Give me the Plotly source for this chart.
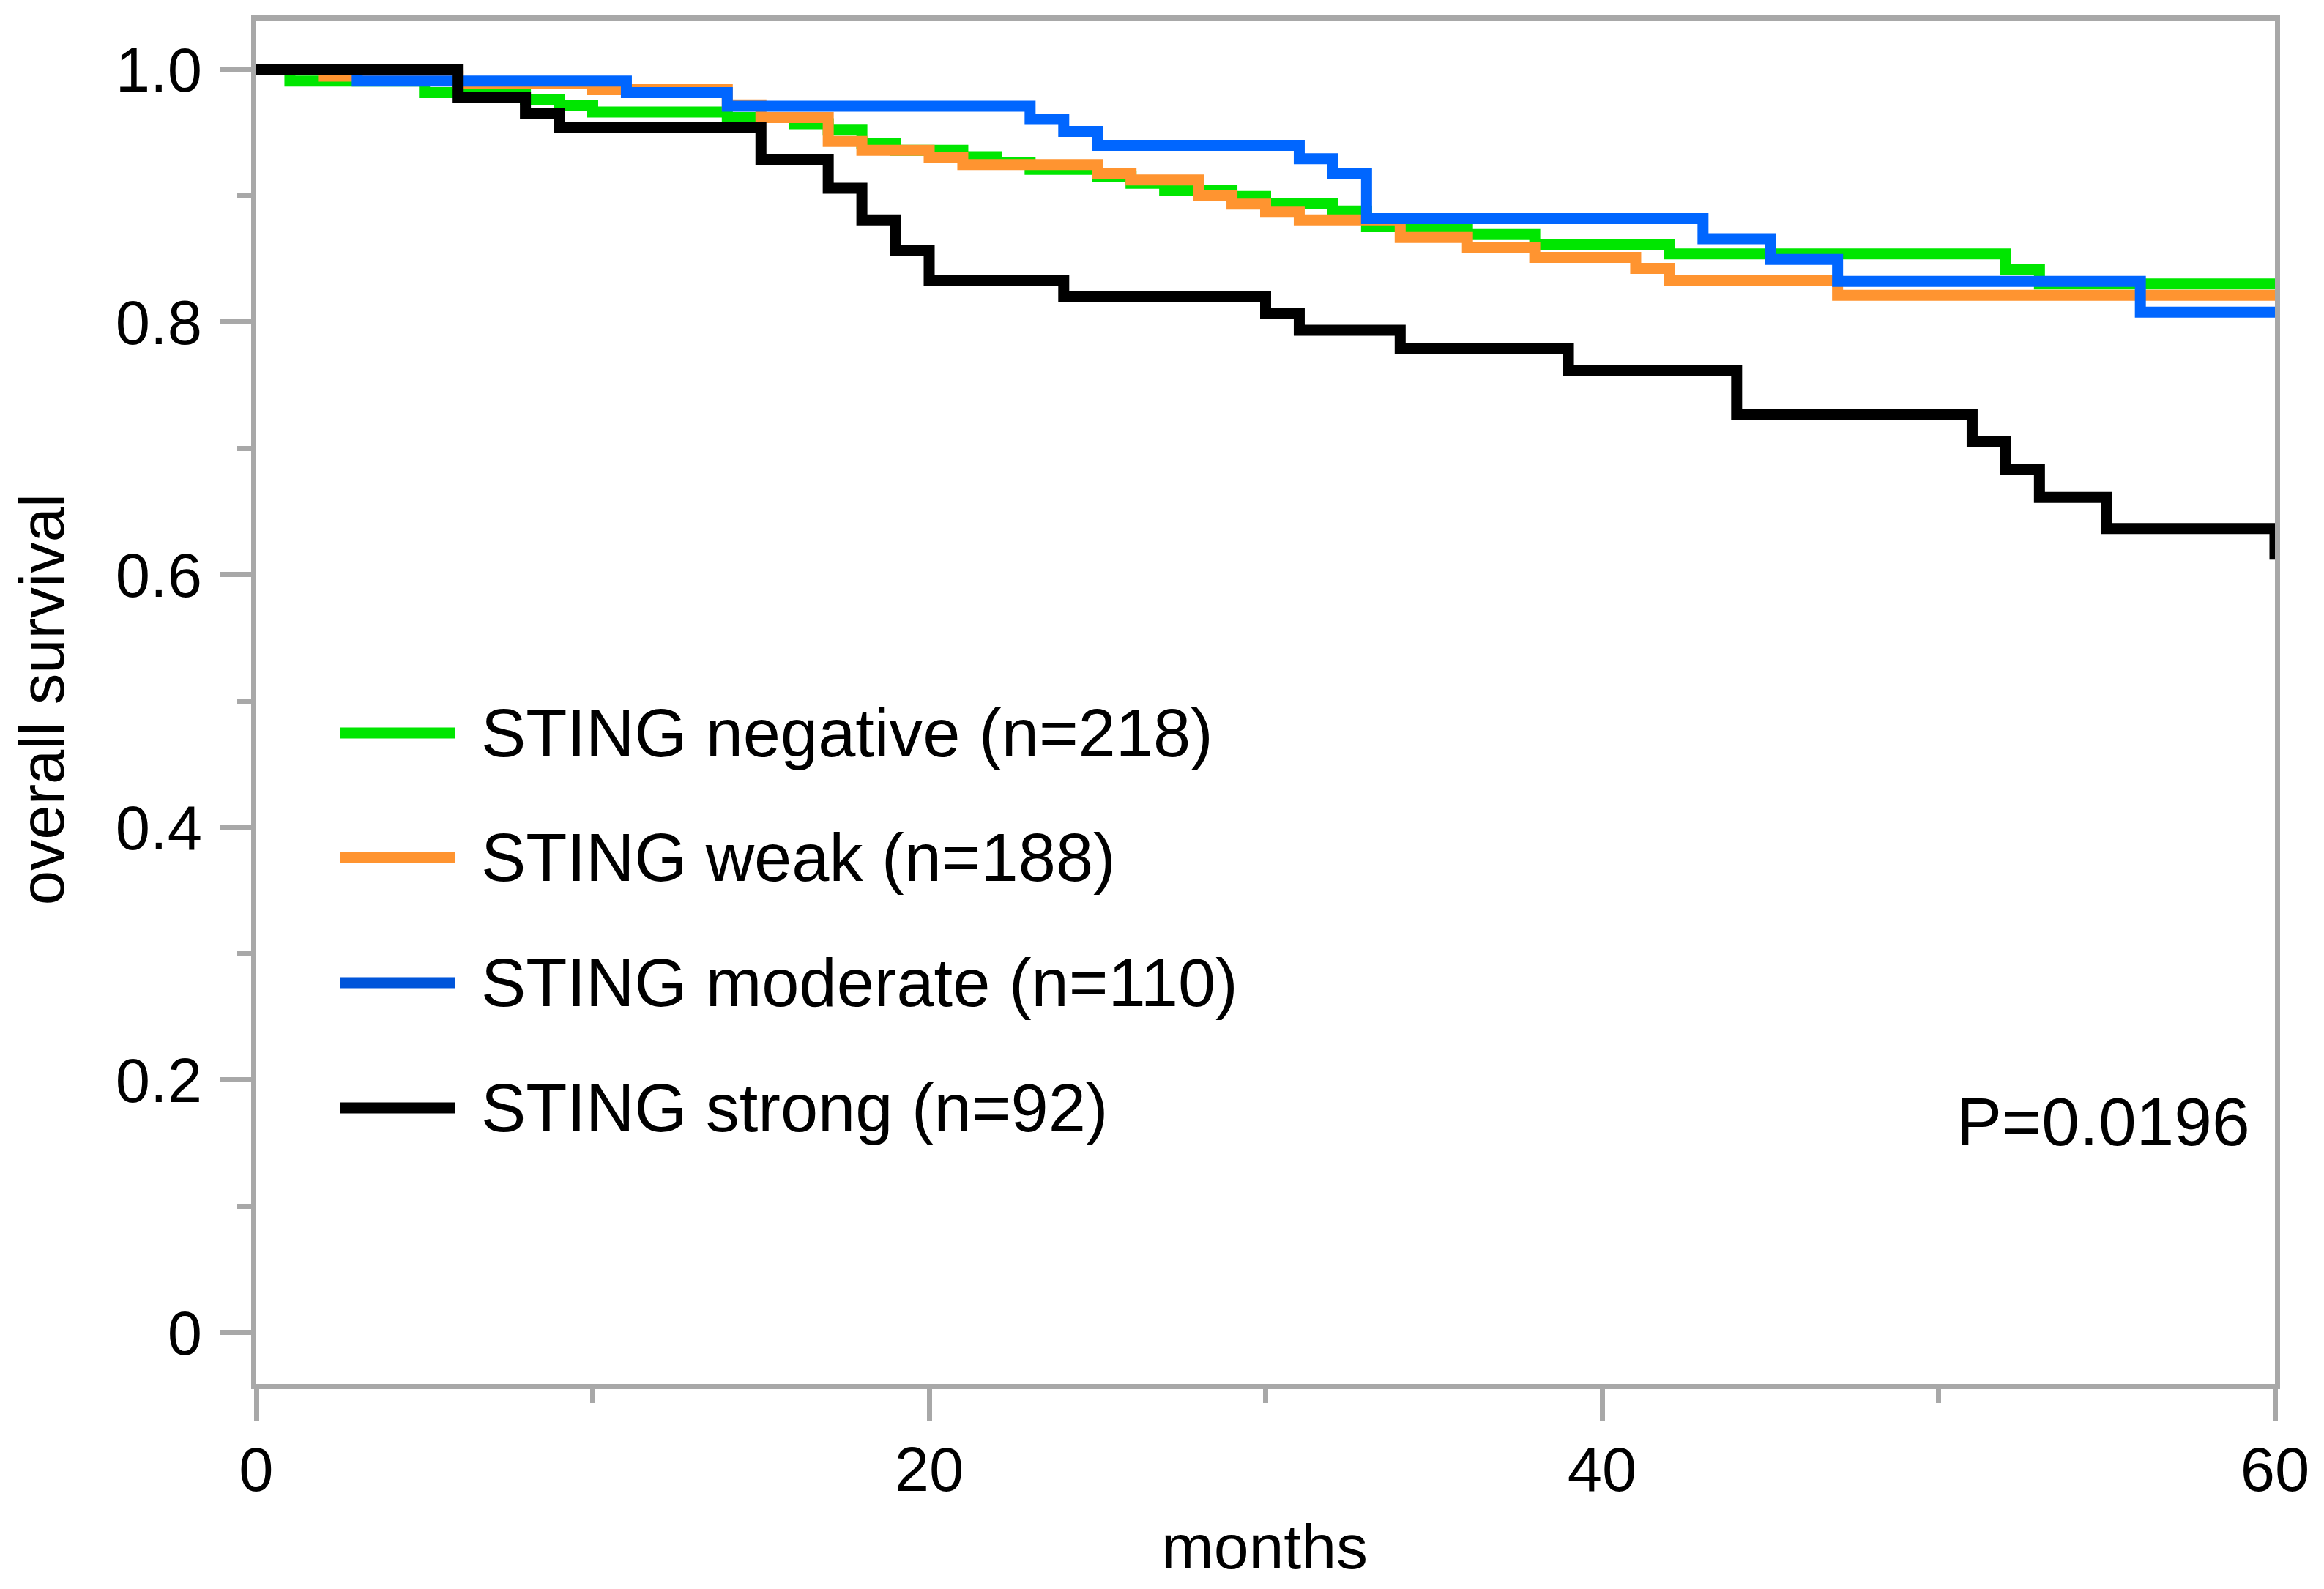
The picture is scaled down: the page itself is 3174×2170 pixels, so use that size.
import plotly.graph_objects as go

# ---- data ----
months_negative = [0, 1, 5, 8, 9, 10, 14, 16, 17, 18, 19, 21, 22, 23, 25, 26, 27, 29, 30, 32, 33, 36, 38, 42, 52, 53, 60]
surv_negative = [1.0, 0.9909, 0.9817, 0.9764, 0.9715, 0.9664, 0.962, 0.957, 0.952, 0.9417, 0.936, 0.931, 0.926,
                 0.921, 0.9155, 0.910, 0.9045, 0.8995, 0.8937, 0.888, 0.8756, 0.8694, 0.8617, 0.854, 0.8414, 0.8303, 0.8303]

months_weak = [0, 2, 6, 10, 14, 15, 17, 18, 20, 21, 25, 26, 28, 29, 30, 31, 34, 36, 38, 41, 42, 47, 60]
surv_weak = [1.0, 0.9947, 0.9893, 0.984, 0.972, 0.962, 0.943, 0.936, 0.9306, 0.9248, 0.918, 0.9126, 0.900,
             0.8935, 0.887, 0.881, 0.8671, 0.8594, 0.8513, 0.8426, 0.8333, 0.8212, 0.8212]

months_moderate = [0, 3, 11, 14, 23, 24, 25, 31, 32, 33, 43, 45, 47, 56, 60]
surv_moderate = [1.0, 0.9909, 0.9817, 0.971, 0.9606, 0.951, 0.940, 0.9294, 0.9174, 0.882, 0.866, 0.8497,
                 0.8323, 0.8079, 0.8079]

months_strong = [0, 6, 8, 9, 15, 17, 18, 19, 20, 24, 30, 31, 34, 39, 44, 51, 52, 53, 55, 60]
surv_strong = [1.0, 0.978, 0.965, 0.954, 0.929, 0.906, 0.881, 0.857, 0.833, 0.8206, 0.8067, 0.7936, 0.779,
               0.7617, 0.727, 0.7054, 0.6833, 0.6612, 0.6366, 0.612]

series_names = ["STING negative (n=218)", "STING weak (n=188)", "STING moderate (n=110)", "STING strong (n=92)"]
series_colors = ["#00E600", "#FF9430", "#0066FF", "#000000"]
legend_colors = ["#00E600", "#FF9430", "#0055DA", "#000000"]

y_tickvals = [0, 0.2, 0.4, 0.6, 0.8, 1.0]
y_ticktext = ["0", "0.2", "0.4", "0.6", "0.8", "1.0"]
x_tickvals = [0, 20, 40, 60]
x_ticktext = ["0", "20", "40", "60"]
p_text = "P=0.0196"

FONT = "Liberation Sans, Arial, Helvetica, sans-serif"
AXIS_GRAY = "#A8A8A8"

# page has an 8px body margin: the figure starts at page (8, 8)
OFF = 8
W, H = 3174 - 2 * OFF, 2170 - 2 * OFF
PLOT_L, PLOT_R, PLOT_T, PLOT_B = 350, 3110, 28, 1890   # page pixel positions of the plot frame
ML = PLOT_L - OFF
MR = OFF + W - PLOT_R
MT = PLOT_T - OFF
MB = OFF + H - PLOT_B
PW, PH = PLOT_R - PLOT_L, PLOT_B - PLOT_T


def px_to_paper_x(px):
    return (px - PLOT_L) / PW


def px_to_paper_y(py):
    return (PLOT_B - py) / PH


fig = go.Figure()
all_x = [months_negative, months_weak, months_moderate, months_strong]
all_y = [surv_negative, surv_weak, surv_moderate, surv_strong]
for xs, ys, name, col in zip(all_x, all_y, series_names, series_colors):
    fig.add_trace(go.Scatter(x=xs, y=ys, mode="lines", name=name,
                             line=dict(color=col, width=15, shape="hv"),
                             showlegend=False, hoverinfo="skip"))

# custom legend (long line samples as in the reference)
legend_rows_px = [1001, 1171, 1342, 1513]
for row_y, name, col in zip(legend_rows_px, series_names, legend_colors):
    yp = px_to_paper_y(row_y)
    fig.add_shape(type="line", xref="paper", yref="paper",
                  x0=px_to_paper_x(465), x1=px_to_paper_x(622), y0=yp, y1=yp,
                  line=dict(color=col, width=15))
    fig.add_annotation(xref="paper", yref="paper", x=px_to_paper_x(655), y=yp,
                       xanchor="left", yanchor="middle", text=name, showarrow=False,
                       font=dict(family=FONT, size=92, color="black"))

fig.add_annotation(xref="paper", yref="paper", x=px_to_paper_x(3078), y=px_to_paper_y(1532),
                   xanchor="right", yanchor="middle", text=p_text, showarrow=False,
                   font=dict(family=FONT, size=93, color="black"))

# axis titles
fig.add_annotation(xref="paper", yref="paper", x=px_to_paper_x(1728), y=px_to_paper_y(2112),
                   xanchor="center", yanchor="middle", text="months", showarrow=False,
                   font=dict(family=FONT, size=86, color="black"))
fig.add_annotation(xref="paper", yref="paper", x=px_to_paper_x(58), y=px_to_paper_y(955),
                   xanchor="center", yanchor="middle", text="overall survival", showarrow=False,
                   textangle=-90, font=dict(family=FONT, size=85, color="black"))

fig.update_layout(
    width=W, height=H,
    margin=dict(l=ML, r=MR, t=MT, b=MB, pad=0),
    paper_bgcolor="white", plot_bgcolor="white",
    font=dict(family=FONT, color="black"),
    showlegend=False,
)
fig.update_xaxes(range=[0, 60], tickvals=x_tickvals, ticktext=x_ticktext,
                 showgrid=False, zeroline=False,
                 showline=True, linecolor=AXIS_GRAY, linewidth=7, mirror=True,
                 ticks="outside", ticklen=43, tickwidth=7, tickcolor=AXIS_GRAY,
                 ticklabelstandoff=-6,
                 minor=dict(ticks="outside", ticklen=19, tickwidth=7, tickcolor=AXIS_GRAY, dtick=10, tick0=0),
                 tickfont=dict(family=FONT, size=85, color="black"))
fig.update_yaxes(range=[-0.0406, 1.0388], tickvals=y_tickvals, ticktext=y_ticktext,
                 showgrid=False, zeroline=False,
                 showline=True, linecolor=AXIS_GRAY, linewidth=7, mirror=True,
                 ticks="outside", ticklen=43, tickwidth=7, tickcolor=AXIS_GRAY,
                 ticklabelstandoff=7,
                 minor=dict(ticks="outside", ticklen=19, tickwidth=7, tickcolor=AXIS_GRAY, dtick=0.1, tick0=0),
                 tickfont=dict(family=FONT, size=85, color="black"))

fig.write_html("out.html")
